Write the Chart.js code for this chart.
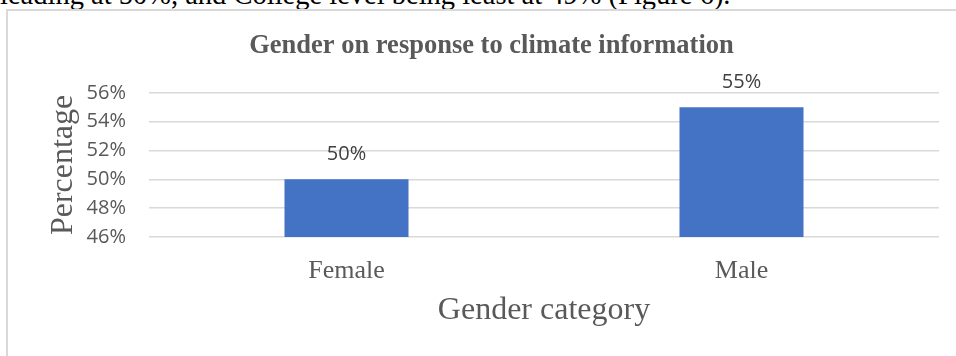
<!DOCTYPE html>
<html>
<head>
<meta charset="utf-8">
<script src="https://cdn.jsdelivr.net/npm/chart.js@4"></script>
<style>
    html, body { margin: 0; padding: 0; background: #fff; overflow: hidden; }
    body { width: 956px; height: 356px; position: relative; }
    #texto {
        position: absolute; left: 0; top: -19px; white-space: nowrap;
        font: 28.5px/28.5px "Liberation Serif", serif; color: #000;
    }
    #marco {
        position: absolute; left: 6px; top: 9px; width: 1000px; height: 400px;
        border-left: 2px solid #d9d9d9; border-top: 2px solid #d9d9d9;
    }
    #grafico { position: absolute; left: 0; top: 0; }
</style>
</head>
<body>
<div id="texto">leading at 50%, and College level being least at 49% (Figure 6).</div>
<div id="marco"></div>
<canvas id="grafico" width="956" height="356"></canvas>
<script>
const categorias = ['Female', 'Male'];
const valores = [50, 55];
const ticksY = [46, 48, 50, 52, 54, 56];

const gris = '#595959';

// etiquetas de valor sobre cada barra
const etiquetas = {
    id: 'etiquetas',
    afterDatasetsDraw(chart) {
        const ctx = chart.ctx;
        const meta = chart.getDatasetMeta(0);
        ctx.save();
        ctx.font = '20px "Open Sans"';
        ctx.fillStyle = '#404040';
        ctx.textAlign = 'center';
        ctx.textBaseline = 'middle';
        meta.data.forEach((bar, i) => {
            ctx.fillText(valores[i] + '%', bar.x, bar.y - 25);
        });
        ctx.restore();
    }
};

const config = {
    type: 'bar',
    data: {
        labels: categorias,
        datasets: [{
            data: valores,
            backgroundColor: '#4472C4',
            borderWidth: 0,
            categoryPercentage: 1,
            barPercentage: 0.314
        }]
    },
    options: {
        responsive: false,
        animation: false,
        layout: { padding: { left: 44, right: 17, top: 0, bottom: 0 } },
        plugins: {
            legend: { display: false },
            tooltip: { enabled: false },
            title: {
                display: true,
                text: 'Gender on response to climate information',
                color: gris,
                font: { family: 'Liberation Serif', size: 26.5, weight: 'bold', lineHeight: 1.2 },
                padding: { top: 30, bottom: 31 }
            }
        },
        scales: {
            x: {
                grid: { display: false },
                border: { display: false },
                ticks: {
                    color: gris,
                    font: { family: 'Liberation Serif', size: 26 },
                    padding: 11
                },
                title: {
                    display: true,
                    text: 'Gender category',
                    color: gris,
                    font: { family: 'Liberation Serif', size: 32, lineHeight: 1.2 },
                    padding: { top: 0, bottom: 26 }
                },
                afterFit(s) { s.height = 119; }
            },
            y: {
                min: ticksY[0],
                max: ticksY[ticksY.length - 1],
                afterBuildTicks(s) { s.ticks = ticksY.map(v => ({ value: v })); },
                grid: { color: '#d9d9d9', lineWidth: 1.5, drawTicks: false },
                border: { display: false },
                ticks: {
                    color: gris,
                    font: { family: 'Open Sans', size: 20 },
                    padding: 23,
                    callback: v => v + '%'
                },
                title: {
                    display: true,
                    text: 'Percentage',
                    color: gris,
                    font: { family: 'Liberation Serif', size: 32, lineHeight: 1.2 },
                    padding: { top: 0, bottom: 0 }
                },
                afterFit(s) { s.width = 105; }
            }
        }
    },
    plugins: [etiquetas]
};

new Chart(document.getElementById('grafico'), config);
</script>
</body>
</html>
